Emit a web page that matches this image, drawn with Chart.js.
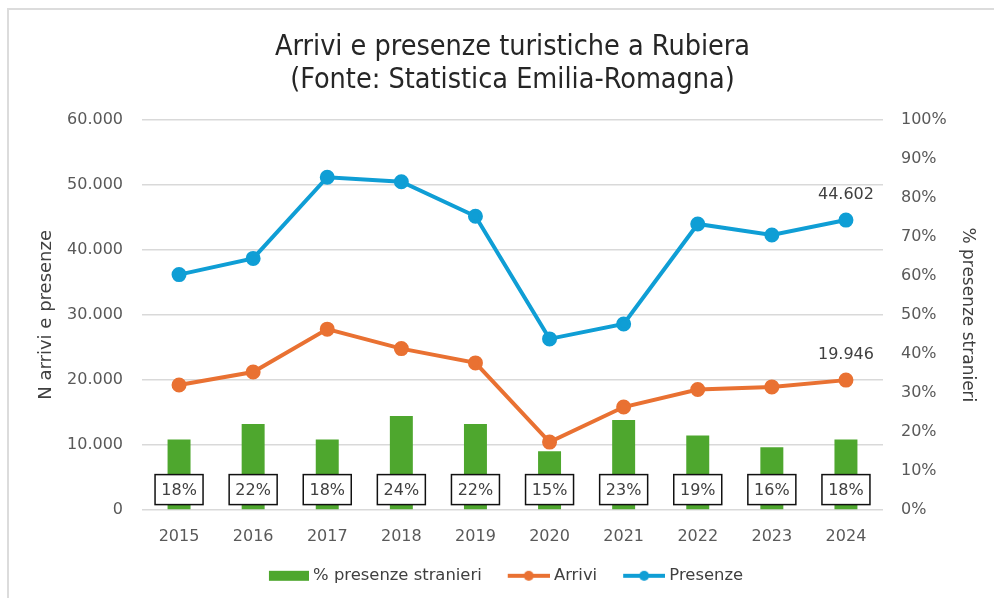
<!DOCTYPE html>
<html lang="it">
<head>
<meta charset="utf-8">
<title>Arrivi e presenze turistiche a Rubiera</title>
<script src="https://cdn.jsdelivr.net/npm/chart.js@4.4.1/dist/chart.umd.min.js"></script>
<style>
  html, body { margin: 0; padding: 0; background: #fff; overflow: hidden; }
  #box { position: absolute; left: 0; top: 0; width: 994px; height: 598px; }
</style>
</head>
<body>
<div id="box"><canvas id="grafico"></canvas></div>
<script>
// Dati (Statistica Emilia-Romagna)
const anni = ['2015', '2016', '2017', '2018', '2019', '2020', '2021', '2022', '2023', '2024'];
const arrivi = [19200, 21200, 27800, 24800, 22600, 10400, 15800, 18500, 18900, 19946];
const presenze = [36200, 38700, 51200, 50500, 45200, 26300, 28600, 44000, 42300, 44602];
const quotaStranieri = [18, 22, 18, 24, 22, 15, 23, 19, 16, 18];

const VERDE = '#4EA72E';
const ARANCIO = '#E97132';
const BLU = '#0F9ED5';
const TESTO = '#595959';
const FONT = '"DejaVu Sans", sans-serif';

// formato italiano: 60.000
function migliaia(v) {
  return String(Math.round(v)).replace(/\B(?=(\d{3})+(?!\d))/g, '.');
}

// simboli della legenda stile Excel (a destra nell'immagine, a sinistra resta lo spazio tra le voci)
function simbolo(colore, tipo) {
  const c = document.createElement('canvas');
  c.width = 62; c.height = 12;
  const g = c.getContext('2d');
  g.fillStyle = colore;
  if (tipo === 'bar') {
    g.fillRect(22, 1, 40, 10);
  } else {
    g.strokeStyle = colore;
    g.lineWidth = 4;
    g.beginPath(); g.moveTo(20, 6); g.lineTo(62, 6); g.stroke();
    g.beginPath(); g.arc(41, 6, 5, 0, Math.PI * 2); g.fill();
  }
  return c;
}
const simboli = [simbolo(VERDE, 'bar'), simbolo(ARANCIO, 'line'), simbolo(BLU, 'line')];

// cornice grigia in alto e a sinistra
const cornice = {
  id: 'cornice',
  beforeDraw(chart) {
    const ctx = chart.ctx;
    ctx.save();
    ctx.strokeStyle = '#dcdcdc';
    ctx.lineWidth = 2;
    ctx.beginPath();
    ctx.moveTo(8, chart.height);
    ctx.lineTo(8, 9);
    ctx.lineTo(chart.width, 9);
    ctx.stroke();
    ctx.restore();
  },
};

// etichette: riquadri con le percentuali e ultimo valore delle linee
const etichette = {
  id: 'etichette',
  afterDatasetsDraw(chart) {
    const ctx = chart.ctx;
    const base = chart.scales.y.bottom;
    ctx.save();
    ctx.font = '16px ' + FONT;
    ctx.textAlign = 'center';
    ctx.textBaseline = 'middle';
    chart.getDatasetMeta(0).data.forEach((bar, i) => {
      const cy = base - 20;
      ctx.fillStyle = '#fff';
      ctx.fillRect(bar.x - 24, cy - 15, 48, 30);
      ctx.strokeStyle = '#111';
      ctx.lineWidth = 1.5;
      ctx.strokeRect(bar.x - 24, cy - 15, 48, 30);
      ctx.fillStyle = '#404040';
      ctx.fillText(quotaStranieri[i] + '%', bar.x, cy + 1);
    });
    [1, 2].forEach((d) => {
      const punti = chart.getDatasetMeta(d).data;
      const ultimo = punti[punti.length - 1];
      const valori = chart.data.datasets[d].data;
      ctx.fillStyle = '#404040';
      ctx.fillText(migliaia(valori[valori.length - 1]), ultimo.x, ultimo.y - 25);
    });
    ctx.restore();
  },
};

new Chart(document.getElementById('grafico'), {
  type: 'bar',
  data: {
    labels: anni,
    datasets: [
      {
        type: 'bar',
        label: '% presenze stranieri',
        data: quotaStranieri,
        yAxisID: 'y2',
        backgroundColor: VERDE,
        barPercentage: 0.31,
        categoryPercentage: 1,
        order: 3,
      },
      {
        type: 'line',
        label: 'Arrivi',
        data: arrivi,
        yAxisID: 'y',
        borderColor: ARANCIO,
        backgroundColor: ARANCIO,
        borderWidth: 4,
        pointRadius: 5.5,
        pointHoverRadius: 5.5,
        tension: 0,
        order: 2,
      },
      {
        type: 'line',
        label: 'Presenze',
        data: presenze,
        yAxisID: 'y',
        borderColor: BLU,
        backgroundColor: BLU,
        borderWidth: 4,
        pointRadius: 5.5,
        pointHoverRadius: 5.5,
        tension: 0,
        order: 1,
      },
    ],
  },
  options: {
    responsive: true,
    maintainAspectRatio: false,
    animation: false,
    layout: { padding: { left: 0, right: 0, top: 0, bottom: 4 } },
    scales: {
      x: {
        grid: { display: false, drawTicks: false },
        border: { display: false },
        ticks: { color: TESTO, font: { family: FONT, size: 16 }, padding: 18 },
        afterFit(scale) { scale.height = 48; },
      },
      y: {
        position: 'left',
        min: 0,
        max: 60000,
        grid: { color: '#d9d9d9', lineWidth: 1.5, drawTicks: false },
        border: { display: false },
        ticks: { stepSize: 10000, color: TESTO, font: { family: FONT, size: 16 }, padding: 19,
                 callback: (v) => migliaia(v) },
        title: { display: true, text: 'N arrivi e presenze', color: '#404040',
                 font: { family: FONT, size: 18 }, padding: { top: 36, bottom: 0 } },
        afterFit(scale) { scale.width = 142; },
      },
      y2: {
        position: 'right',
        min: 0,
        max: 100,
        grid: { display: false, drawTicks: false },
        border: { display: false },
        ticks: { stepSize: 10, color: TESTO, font: { family: FONT, size: 16 }, padding: 18,
                 callback: (v) => v + '%' },
        title: { display: true, text: '% presenze stranieri', color: '#404040',
                 font: { family: FONT, size: 17 }, padding: { top: 16, bottom: 0 } },
        afterFit(scale) { scale.width = 111; },
      },
    },
    plugins: {
      title: {
        display: true,
        fullSize: false,
        text: ['Arrivi e presenze turistiche a Rubiera', '(Fonte: Statistica Emilia-Romagna)'],
        color: '#262626',
        font: { family: '"DejaVu Sans Condensed", "Liberation Sans Narrow", sans-serif', size: 28.5, weight: 'normal', lineHeight: 1.16 },
        padding: { top: 31, bottom: 23 },
      },
      legend: {
        position: 'bottom',
        labels: {
          usePointStyle: true,
          pointStyleWidth: 54,
          color: '#404040',
          font: { family: FONT, size: 16.4 },
          padding: 10,
          sort: (a, b) => a.datasetIndex - b.datasetIndex,
          generateLabels(chart) {
            const items = Chart.defaults.plugins.legend.labels.generateLabels(chart);
            items.forEach((it) => { it.pointStyle = simboli[it.datasetIndex]; });
            return items;
          },
        },
      },
      tooltip: { enabled: false },
    },
  },
  plugins: [cornice, etichette],
});
</script>
</body>
</html>
